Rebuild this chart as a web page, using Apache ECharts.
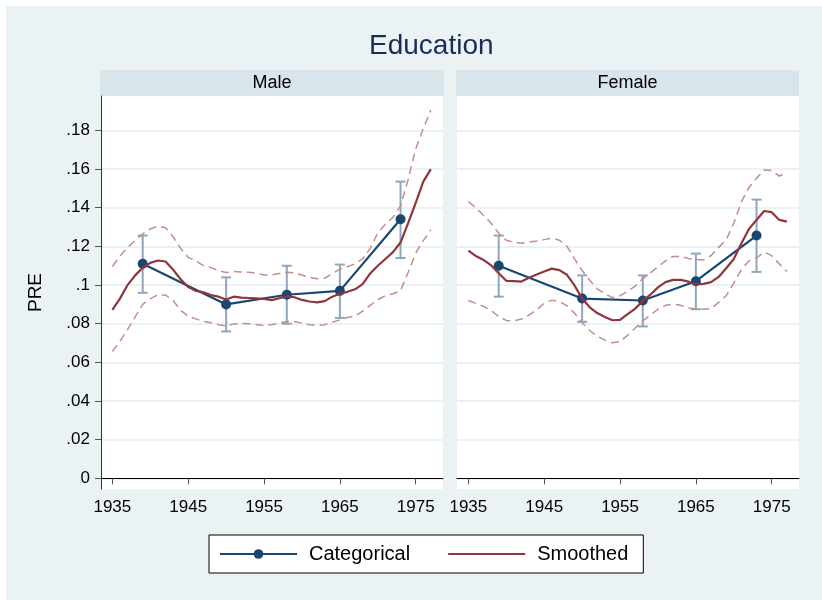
<!DOCTYPE html>
<html>
<head>
<meta charset="utf-8">
<script src="https://cdn.jsdelivr.net/npm/echarts@6/dist/echarts.min.js"></script>
<style>
html,body{margin:0;padding:0;background:#fff;}
#main{width:822px;height:600px;}
</style>
</head>
<body>
<div id="main"></div>
<script>
// birth cohorts for the smoothed curves
var years = [1935,1936,1937,1938,1939,1940,1941,1942,1943,1944,1945,1946,1947,1948,1949,
  1950,1951,1952,1953,1954,1955,1956,1957,1958,1959,1960,1961,1962,1963,1964,
  1965,1966,1967,1968,1969,1970,1971,1972,1973,1974,1975,1976,1977];

// male smoothed + bands
var maleSmooth = [0.0872,0.093,0.100,0.105,0.109,0.1115,0.1127,0.1122,0.108,0.103,0.099,0.097,0.0963,0.0948,0.094,
  0.0925,0.094,0.0935,0.0933,0.0931,0.0928,0.0922,0.0932,0.0941,0.0937,0.0923,0.0915,0.0910,0.0917,0.094,
  0.0955,0.0965,0.0978,0.1005,0.106,0.110,0.1135,0.117,0.122,0.132,0.1425,0.1535,0.160];
var maleUpper = [0.1096,0.115,0.1195,0.123,0.1265,0.129,0.1305,0.1297,0.125,0.119,0.1143,0.1125,0.110,0.109,0.1075,
  0.1065,0.107,0.1068,0.1066,0.1062,0.1052,0.1052,0.106,0.1066,0.1063,0.1052,0.104,0.1033,0.1035,0.106,
  0.1082,0.1095,0.111,0.1135,0.119,0.127,0.1315,0.135,0.141,0.1545,0.1705,0.181,0.1905];
var maleLower = [0.0656,0.071,0.077,0.0835,0.090,0.093,0.0949,0.0949,0.092,0.087,0.0838,0.0825,0.0812,0.0805,0.0795,
  0.0789,0.0798,0.0802,0.080,0.0796,0.079,0.0795,0.0803,0.0812,0.0811,0.0803,0.0795,0.079,0.0795,0.0808,
  0.082,0.0832,0.084,0.0865,0.0895,0.0925,0.0945,0.0955,0.097,0.1065,0.1165,0.123,0.1285];

// female smoothed + bands
var femaleSmooth = [0.1178,0.115,0.113,0.1102,0.1061,0.1022,0.1020,0.1018,0.1038,0.1055,0.107,0.1085,0.1077,0.1053,0.0998,
  0.093,0.0885,0.0855,0.0835,0.0818,0.082,0.085,0.0878,0.0918,0.095,0.0988,0.1015,0.1027,0.1027,0.1018,
  0.1003,0.1006,0.1015,0.1042,0.1087,0.1135,0.1215,0.129,0.1337,0.1383,0.1377,0.1337,0.1328];
var femaleUpper = [0.1432,0.140,0.136,0.132,0.1268,0.1232,0.1222,0.1216,0.1222,0.1228,0.1235,0.1242,0.1232,0.120,0.1135,
  0.1075,0.1025,0.098,0.0955,0.0935,0.0945,0.0968,0.0995,0.1033,0.1063,0.1095,0.1125,0.1148,0.1148,0.1138,
  0.1132,0.113,0.1152,0.1195,0.1234,0.132,0.143,0.1505,0.1552,0.1595,0.1592,0.1564,0.1581];
var femaleLower = [0.092,0.0905,0.089,0.0868,0.0838,0.0817,0.0815,0.0824,0.0845,0.0872,0.0905,0.0922,0.0915,0.0893,0.0855,
  0.0805,0.0765,0.0735,0.0715,0.0702,0.0708,0.074,0.0778,0.0815,0.0845,0.0875,0.0895,0.0902,0.0895,0.0882,
  0.0875,0.0875,0.0878,0.091,0.0945,0.101,0.108,0.1125,0.114,0.117,0.1152,0.111,0.107];

// categorical estimates with CIs
var catYears = [1939, 1950, 1958, 1965, 1973];
var maleCat = [0.111, 0.090, 0.095, 0.097, 0.134];
var maleCatLo = [0.096, 0.076, 0.080, 0.083, 0.114];
var maleCatHi = [0.1256, 0.104, 0.110, 0.1106, 0.1535];
var femaleCat = [0.110, 0.093, 0.092, 0.102, 0.1256];
var femaleCatLo = [0.094, 0.081, 0.0786, 0.0875, 0.1068];
var femaleCatHi = [0.1256, 0.105, 0.105, 0.1163, 0.1442];

var xTicks = [1935, 1945, 1955, 1965, 1975];
var yTicks = [0, 0.02, 0.04, 0.06, 0.08, 0.1, 0.12, 0.14, 0.16, 0.18];

var navy = '#1a476f', maroon = '#90353b', ciColor = '#c48c90', errColor = '#8fa6bd';
var font = "'Liberation Sans', Arial, Helvetica, sans-serif";

function zip(xs, ys) {
  var out = [];
  for (var i = 0; i < xs.length; i++) out.push([xs[i], ys[i]]);
  return out;
}
function zip3(xs, lo, hi) {
  var out = [];
  for (var i = 0; i < xs.length; i++) out.push([xs[i], lo[i], hi[i]]);
  return out;
}

// vertical CI bar with caps
function renderErr(params, api) {
  var x = api.value(0);
  var pLo = api.coord([x, api.value(1)]);
  var pHi = api.coord([x, api.value(2)]);
  var w = 5;
  var st = {stroke: errColor, lineWidth: 2};
  return {
    type: 'group',
    children: [
      {type: 'line', shape: {x1: pLo[0], y1: pLo[1], x2: pHi[0], y2: pHi[1]}, style: st},
      {type: 'line', shape: {x1: pLo[0] - w, y1: pLo[1], x2: pLo[0] + w, y2: pLo[1]}, style: st},
      {type: 'line', shape: {x1: pHi[0] - w, y1: pHi[1], x2: pHi[0] + w, y2: pHi[1]}, style: st}
    ]
  };
}

function yLabel(v) {
  if (v === 0) return '0';
  return String(+v.toFixed(2)).replace(/^0\./, '.');
}

function xAxisCfg(idx) {
  return {
    type: 'value', gridIndex: idx, min: 1933.5, max: 1978.6,
    axisLine: {show: true, lineStyle: {color: '#000', width: 1}},
    axisTick: {show: true, length: 6, customValues: xTicks, lineStyle: {color: '#555'}},
    axisLabel: {customValues: xTicks, formatter: function (v) { return String(v); },
      fontSize: 17, color: '#000', fontFamily: font, margin: 10},
    splitLine: {show: false}
  };
}
function yAxisCfg(idx, first) {
  return {
    type: 'value', gridIndex: idx, min: -0.0055, max: 0.1978,
    name: first ? 'PRE' : '', nameLocation: 'middle', nameGap: 56, nameRotate: 90,
    nameTextStyle: {fontSize: 19, color: '#000', fontFamily: font},
    axisLine: {show: first, lineStyle: {color: '#333', width: 1}},
    axisTick: {show: first, length: 6, customValues: yTicks, lineStyle: {color: '#555'}},
    axisLabel: {show: first, customValues: yTicks, formatter: yLabel, fontSize: 17, color: '#000', fontFamily: font, margin: 11},
    splitLine: {show: true, lineStyle: {color: '#e5edf0', width: 1.5}}
  };
}

function panelSeries(idx, smooth, upper, lower, cat, lo, hi) {
  return [
    {name: 'CI', type: 'custom', xAxisIndex: idx, yAxisIndex: idx, renderItem: renderErr,
      encode: {x: 0, y: [1, 2]}, data: zip3(catYears, lo, hi), z: 1, silent: true},
    {name: 'Upper', type: 'line', xAxisIndex: idx, yAxisIndex: idx, data: zip(years, upper),
      symbol: 'none', lineStyle: {color: ciColor, width: 1.5, type: [8, 5]}, z: 2, silent: true},
    {name: 'Lower', type: 'line', xAxisIndex: idx, yAxisIndex: idx, data: zip(years, lower),
      symbol: 'none', lineStyle: {color: ciColor, width: 1.5, type: [8, 5]}, z: 2, silent: true},
    {name: 'Categorical', type: 'line', xAxisIndex: idx, yAxisIndex: idx, data: zip(catYears, cat),
      symbol: 'circle', symbolSize: 10, itemStyle: {color: navy},
      lineStyle: {color: navy, width: 2.2}, z: 3},
    {name: 'Smoothed', type: 'line', xAxisIndex: idx, yAxisIndex: idx, data: zip(years, smooth),
      symbol: 'none', itemStyle: {color: maroon}, lineStyle: {color: maroon, width: 2.2}, z: 4}
  ];
}

function strip(x, w, label) {
  return {
    type: 'group', left: x, top: 70,
    children: [
      {type: 'rect', shape: {x: 0, y: 0, width: w, height: 26}, style: {fill: '#d8e5eb'}},
      {type: 'text', x: w / 2, y: 13, style: {text: label, font: '18px ' + font, fill: '#000',
        align: 'center', verticalAlign: 'middle'}}
    ]
  };
}

var chart = echarts.init(document.getElementById('main'));
var option = {
  backgroundColor: '#fff',
  animation: false,
  textStyle: {fontFamily: font},
  title: {
    text: 'Education', left: 364, top: 27,
    textStyle: {fontSize: 28, fontWeight: 'normal', color: '#1c2c5a', fontFamily: font}
  },
  graphic: [
    {type: 'rect', left: 6, top: 6, z: -10, shape: {width: 816, height: 594}, style: {fill: '#eaf2f4'}},
    {type: 'rect', left: 101, top: 96, z: -9, shape: {width: 342, height: 393}, style: {fill: '#fff'}},
    {type: 'rect', left: 457, top: 96, z: -9, shape: {width: 342, height: 393}, style: {fill: '#fff'}},
    strip(100, 344, 'Male'),
    strip(456, 343, 'Female')
  ],
  legend: {
    data: [
      {name: 'Categorical'},
      {name: 'Smoothed', itemStyle: {opacity: 0}}
    ],
    left: 209, top: 535,
    itemWidth: 77, itemHeight: 12, itemGap: 37,
    padding: [9, 15, 9, 10],
    backgroundColor: '#fff', borderColor: '#000', borderWidth: 1, borderRadius: 0,
    textStyle: {fontSize: 20, color: '#000', fontFamily: font, padding: [0, 0, 0, 7]}
  },
  grid: [
    {left: 101, width: 342, top: 96, height: 393},
    {left: 457, width: 342, top: 96, height: 393}
  ],
  xAxis: [xAxisCfg(0), xAxisCfg(1)],
  yAxis: [yAxisCfg(0, true), yAxisCfg(1, false)],
  series: [].concat(
    panelSeries(0, maleSmooth, maleUpper, maleLower, maleCat, maleCatLo, maleCatHi),
    panelSeries(1, femaleSmooth, femaleUpper, femaleLower, femaleCat, femaleCatLo, femaleCatHi)
  )
};
chart.setOption(option);
</script>
</body>
</html>
